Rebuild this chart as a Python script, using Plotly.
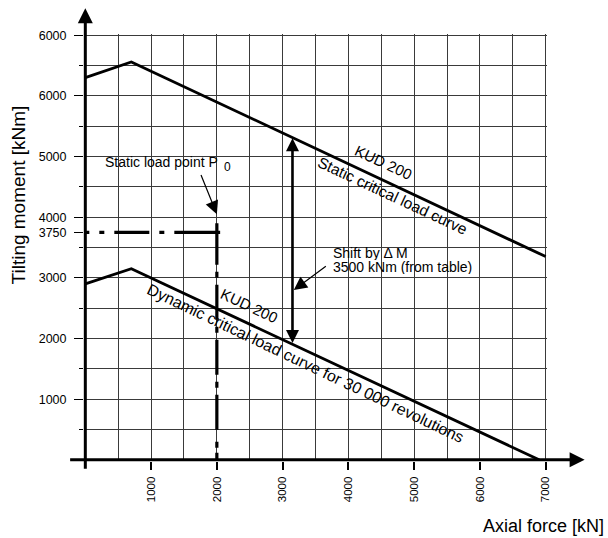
import plotly.graph_objects as go

# ---------------- data ----------------
axial_static = [0, 700, 7000]          # kN
moment_static = [6300, 6560, 3350]     # kNm
axial_dynamic = [0, 700, 6900]         # kN
moment_dynamic = [2900, 3150, 0]       # kNm

load_point_axial = 2000                # kN
load_point_moment = 3750               # kNm

shift_axial = 3150                     # kN
shift_top = 5300                       # kNm (on static curve)
shift_bottom = 1900                    # kNm (on dynamic curve)

x_tick_vals = [1000, 2000, 3000, 4000, 5000, 6000, 7000]
x_tick_text = ["1000", "2000", "3000", "4000", "5000", "6000", "7000"]
y_tick_vals = [1000, 2000, 3000, 3750, 4000, 5000, 6000, 7000]
y_tick_text = ["1000", "2000", "3000", "3750", "4000", "5000", "6000", "6000"]

# ---------------- layout geometry ----------------
W, H = 608, 538
XR = [-20, 7020]
YR = [-20, 7020]
x_scale = 461 / 7000.0   # px per kN
y_scale = 425 / 7000.0   # px per kNm
left = 85 - (0 - XR[0]) * x_scale
plot_w = (XR[1] - XR[0]) * x_scale
top = 35 - (YR[1] - 7000) * y_scale
plot_h = (YR[1] - YR[0]) * y_scale
right = W - left - plot_w
bottom = H - top - plot_h


def px_to_paper_x(px):
    return (px - left) / plot_w


def px_to_paper_y(py):
    return 1 - (py - top) / plot_h


FONT = "Liberation Sans, Arial, Helvetica, sans-serif"
GRID = "#3a3a3a"

fig = go.Figure()

fig.add_trace(go.Scatter(x=axial_static, y=moment_static, mode="lines",
                         line=dict(color="black", width=2.8),
                         showlegend=False, hoverinfo="skip"))
fig.add_trace(go.Scatter(x=axial_dynamic, y=moment_dynamic, mode="lines",
                         line=dict(color="black", width=2.8),
                         showlegend=False, hoverinfo="skip"))

# dash-dot guide lines through the static load point
h_dash = "4px,10px,5px,10px,35px,10px,5px,10px,47px"
v_dash = "7px,5px,6px,12px,35px,7px,6px,7px,35px,7px,6px,7px,35px,7px,6px,7px,42px"
fig.add_trace(go.Scatter(x=[0, load_point_axial + 50],
                         y=[load_point_moment, load_point_moment],
                         mode="lines", line=dict(color="black", width=3.2, dash=h_dash),
                         showlegend=False, hoverinfo="skip"))
fig.add_trace(go.Scatter(x=[load_point_axial, load_point_axial],
                         y=[0, load_point_moment + 150],
                         mode="lines", line=dict(color="black", width=3.2, dash=v_dash),
                         showlegend=False, hoverinfo="skip"))

# invisible trace to activate the overlay axes that carry the labels
fig.add_trace(go.Scatter(x=[axial_static[0]], y=[moment_static[0]], xaxis="x2", yaxis="y2",
                         mode="markers", marker=dict(opacity=0),
                         showlegend=False, hoverinfo="skip"))

ann = []
# axis arrows
ann.append(dict(xref="x", x=0, yref="paper", y=px_to_paper_y(8),
                axref="pixel", ayref="pixel", ax=0, ay=470 - 8,
                showarrow=True, arrowhead=2, arrowwidth=3, arrowsize=1,
                arrowcolor="black", text=""))
ann.append(dict(xref="paper", x=px_to_paper_x(585), yref="y", y=0,
                axref="pixel", ayref="pixel", ax=69 - 585, ay=0,
                showarrow=True, arrowhead=2, arrowwidth=3, arrowsize=1,
                arrowcolor="black", text=""))
# shift double arrow
ann.append(dict(xref="x", yref="y", x=shift_axial, y=shift_top,
                axref="x", ayref="y", ax=shift_axial, ay=shift_bottom,
                showarrow=True, arrowhead=2, startarrowhead=2, arrowside="end+start",
                arrowwidth=2.6, arrowsize=1, startarrowsize=1,
                arrowcolor="black", text=""))
# pointer arrows
ann.append(dict(xref="x", yref="y", x=2000, y=4050, axref="x", ayref="y",
                ax=1750, ay=4720, showarrow=True, arrowhead=2, arrowwidth=1.2,
                arrowsize=2.2, arrowcolor="black", text=""))
ann.append(dict(xref="x", yref="y", x=3170, y=2800, axref="x", ayref="y",
                ax=3680, ay=3210, showarrow=True, arrowhead=2, arrowwidth=1.2,
                arrowsize=2.2, arrowcolor="black", text=""))

# texts
ann.append(dict(xref="x", yref="y", x=270, y=4905, xanchor="left", yanchor="middle",
                text="Static load point P", showarrow=False,
                font=dict(family=FONT, size=14, color="black")))
ann.append(dict(xref="x", yref="y", x=2156, y=4826, xanchor="center", yanchor="middle",
                text="0", showarrow=False,
                font=dict(family=FONT, size=12, color="black")))
ann.append(dict(xref="x", yref="y", x=3740, y=3405, xanchor="left", yanchor="middle",
                text="Shift by Δ M", showarrow=False, height=14,
                font=dict(family=FONT, size=14, color="black")))
ann.append(dict(xref="x", yref="y", x=3740, y=3175, xanchor="left", yanchor="middle",
                text="3500 kNm (from table)", showarrow=False, height=14,
                font=dict(family=FONT, size=14, color="black")))
ann.append(dict(xref="x", yref="y", x=4540, y=4900, textangle=25,
                text="KUD 200", showarrow=False,
                font=dict(family=FONT, size=15, color="black")))
ann.append(dict(xref="x", yref="y", x=4665, y=4350, textangle=25,
                text="Static critical load curve", showarrow=False,
                font=dict(family=FONT, size=15.5, color="black")))
ann.append(dict(xref="x", yref="y", x=2490, y=2550, textangle=25,
                text="KUD 200", showarrow=False,
                font=dict(family=FONT, size=15, color="black")))
ann.append(dict(xref="x", yref="y", x=3355, y=1585, textangle=25.5,
                text="Dynamic critical load curve for 30 000 revolutions", showarrow=False,
                font=dict(family=FONT, size=16, color="black")))
# axis titles
ann.append(dict(xref="paper", yref="paper", x=px_to_paper_x(18), y=px_to_paper_y(195),
                xanchor="center", yanchor="middle",
                textangle=-90, text="Tilting moment [kNm]", showarrow=False,
                font=dict(family=FONT, size=19, color="black")))
ann.append(dict(xref="paper", yref="paper", x=px_to_paper_x(606), y=px_to_paper_y(526),
                xanchor="right", yanchor="middle", text="Axial force [kN]", showarrow=False,
                font=dict(family=FONT, size=18, color="black")))

fig.update_layout(
    width=W, height=H,
    margin=dict(l=left, r=right, t=top, b=bottom, pad=0),
    paper_bgcolor="white", plot_bgcolor="white",
    showlegend=False,
    font=dict(family=FONT, color="black"),
    xaxis=dict(range=XR, tick0=0, dtick=500, showgrid=True, gridcolor=GRID, gridwidth=1,
               showticklabels=False, ticks="", zeroline=False, showline=False,
               fixedrange=True),
    yaxis=dict(range=YR, tick0=0, dtick=500, showgrid=True, gridcolor=GRID, gridwidth=1,
               showticklabels=False, ticks="outside", ticklen=4, tickcolor="black",
               tickwidth=1, zeroline=False, showline=False, fixedrange=True),
    xaxis2=dict(range=XR, overlaying="x", anchor="y2", side="bottom",
                tickmode="array", tickvals=x_tick_vals, ticktext=x_tick_text,
                ticks="outside", ticklen=8, tickwidth=1.6, tickcolor="black",
                tickangle=-90, ticklabelstandoff=2,
                tickfont=dict(family=FONT, size=11.5, color="black"),
                showgrid=False, zeroline=False, showline=False, fixedrange=True),
    yaxis2=dict(range=YR, overlaying="y", anchor="x2", side="left",
                tickmode="array", tickvals=y_tick_vals, ticktext=y_tick_text,
                ticks="outside", ticklen=9, tickwidth=1.4, tickcolor="black",
                ticklabelstandoff=5,
                tickfont=dict(family=FONT, size=12.5, color="black"),
                showgrid=False, zeroline=False, showline=False, fixedrange=True),
    annotations=ann,
)

fig.write_html("out.html", config={"displayModeBar": False},
               post_script="document.body.style.margin='0px';document.body.style.overflow='hidden';")
